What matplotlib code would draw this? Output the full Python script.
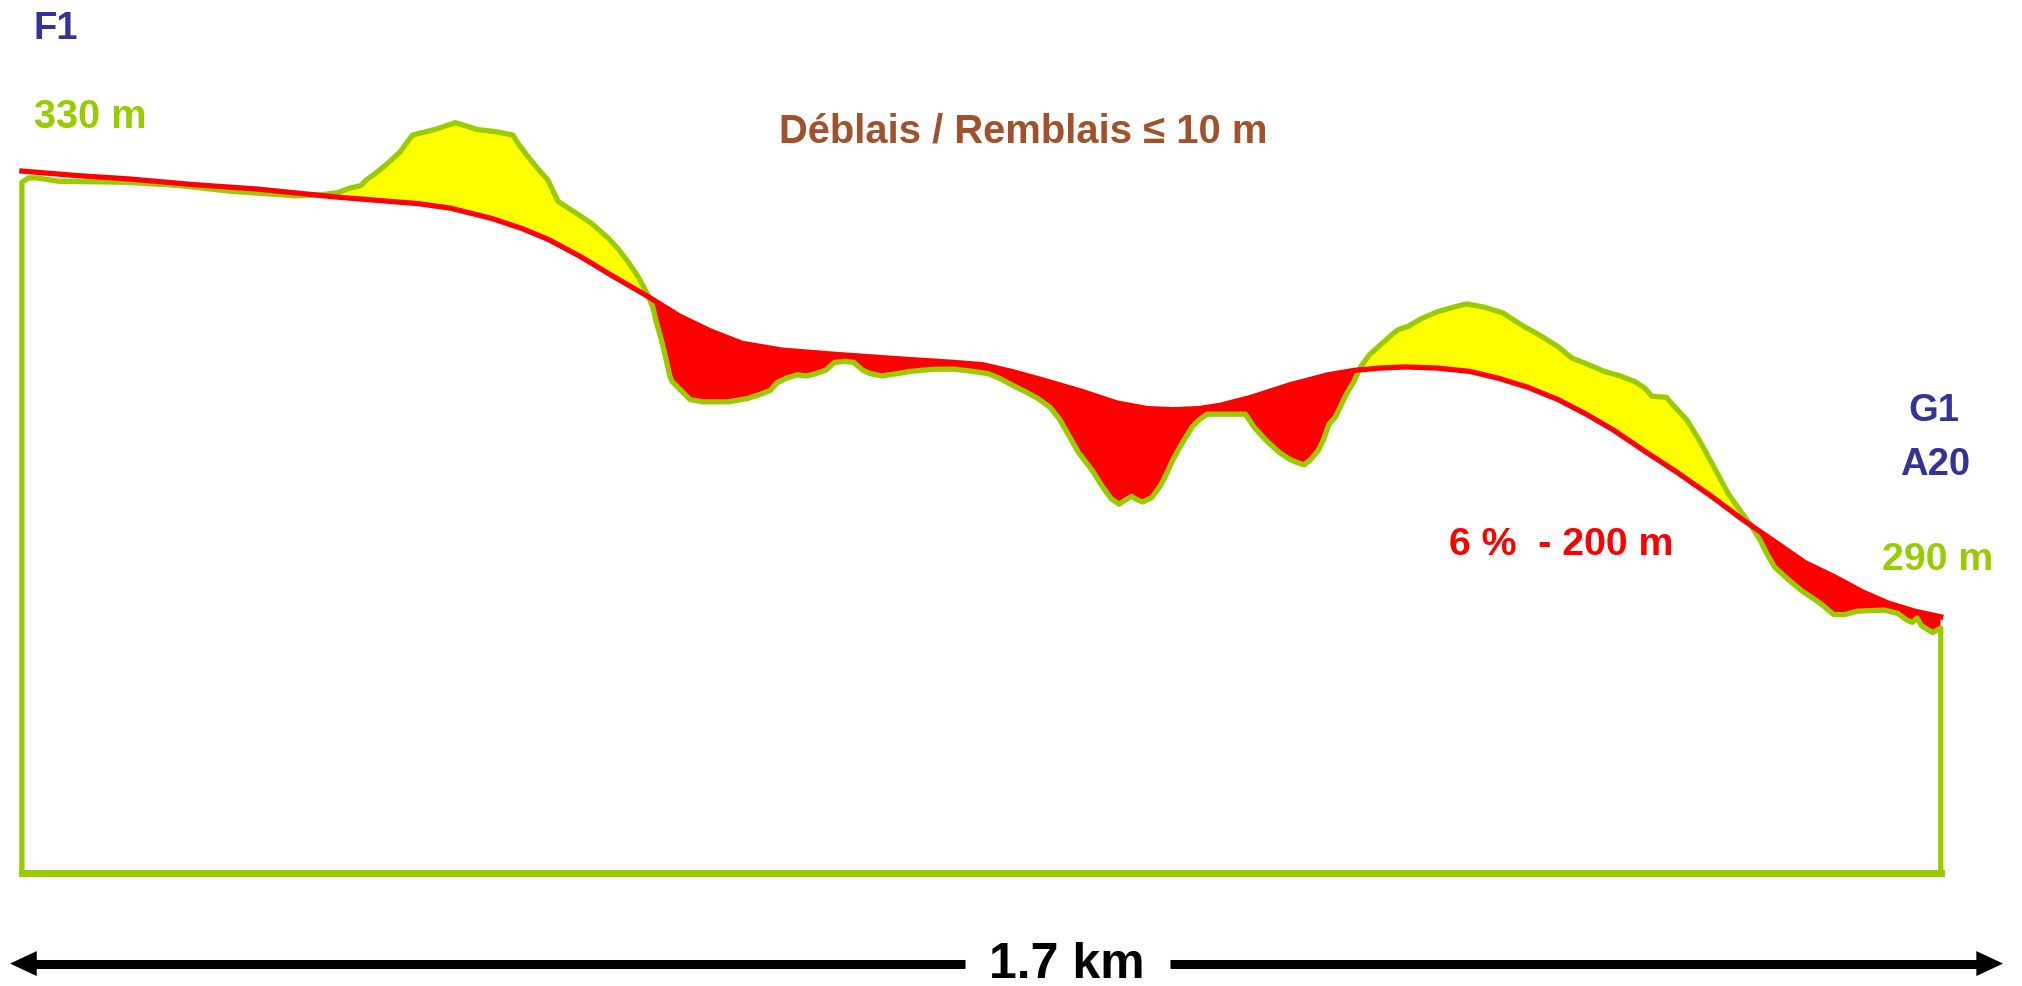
import matplotlib
matplotlib.use("Agg")
import matplotlib.pyplot as plt
from matplotlib.patches import Polygon

# ground profile: distance (m) / elevation (m)
terrain_dist = [0, 6, 13, 32, 95, 141, 186, 243, 266, 280, 291, 300, 305, 312, 323, 335,
                346, 366, 384, 394, 403, 420, 435, 440, 449, 458, 466, 475, 489, 504,
                520, 529, 538, 546, 554, 559, 562, 566, 570, 574, 576, 584, 592, 603,
                626, 643, 655, 663, 669, 677, 687, 695, 703, 712, 720, 729, 737, 745,
                752, 762, 775, 787, 797, 809, 826, 843, 856, 866, 877, 889, 900, 911,
                919, 927, 936, 943, 949, 957, 965, 972, 978, 983, 988, 993, 1001, 1009,
                1015, 1019, 1026, 1032, 1037, 1043, 1050, 1066, 1084, 1092, 1102, 1114,
                1123, 1130, 1136, 1142, 1148, 1153, 1158, 1164, 1173, 1180, 1186, 1194,
                1203, 1213, 1219, 1228, 1240, 1254, 1268, 1280, 1296, 1312, 1329, 1345,
                1361, 1373, 1388, 1402, 1416, 1429, 1438, 1444, 1457, 1462, 1475, 1486,
                1498, 1512, 1524, 1532, 1540, 1546, 1553, 1565, 1577, 1589, 1597, 1605,
                1615, 1626, 1650, 1662, 1670, 1675, 1679, 1683, 1693, 1700]
terrain_elev = [329.8, 330.2, 330.2, 329.9, 329.8, 329.5, 329.0, 328.6, 328.7, 328.9, 329.3,
                329.5, 330.0, 330.5, 331.4, 332.5, 334.0, 334.5, 335.1, 334.8, 334.5,
                334.3, 334.0, 333.2, 332.0, 330.9, 330.0, 328.1, 327.2, 326.2, 324.8,
                323.8, 322.6, 321.4, 319.9, 318.7, 317.4, 316.0, 314.4, 312.6, 312.1,
                311.3, 310.5, 310.3, 310.3, 310.6, 311.0, 311.3, 312.0, 312.4, 312.7,
                312.6, 312.8, 313.1, 313.8, 313.9, 313.8, 313.1, 312.8, 312.6, 312.8,
                313.0, 313.1, 313.2, 313.2, 313.0, 312.8, 312.4, 311.8, 311.2, 310.6,
                309.8, 308.8, 307.4, 305.8, 304.9, 304.1, 302.8, 301.7, 301.2, 301.6,
                301.9, 301.6, 301.4, 301.8, 302.9, 304.1, 305.0, 306.3, 307.3, 308.1,
                308.7, 309.2, 309.2, 309.2, 308.0, 306.9, 305.8, 305.2, 304.9, 304.7,
                305.2, 305.9, 306.9, 308.3, 309.0, 310.9, 312.1, 313.4, 314.5, 315.3,
                316.2, 316.7, 317.0, 317.7, 318.3, 318.7, 319.0, 318.7, 318.2, 317.1,
                316.2, 315.2, 314.2, 313.6, 313.0, 312.6, 312.1, 311.5, 310.8, 310.7,
                310.1, 308.7, 306.9, 304.7, 302.1, 300.4, 299.3, 298.0, 296.8, 295.6,
                294.5, 293.5, 292.7, 292.1, 291.4, 291.4, 291.7, 291.8, 291.5, 290.9,
                290.7, 291.1, 290.4, 289.8, 290.2]

# design grade line
road_dist = [0, 49, 95, 152, 209, 278, 352, 380, 416, 443, 467, 495, 523, 554, 583, 610,
             638, 673, 723, 780, 826, 851, 877, 906, 940, 970, 997, 1020, 1043, 1062,
             1089, 1123, 1157, 1181, 1203, 1226, 1254, 1283, 1308, 1334, 1361, 1386,
             1410, 1438, 1467, 1497, 1525, 1557, 1580, 1605, 1631, 1654, 1677, 1700]
road_elev = [330.8, 330.4, 330.1, 329.6, 329.2, 328.5, 327.9, 327.5, 326.6, 325.7, 324.7,
             323.2, 321.5, 319.7, 317.9, 316.6, 315.5, 314.9, 314.5, 314.1, 313.8, 313.6,
             313.0, 312.2, 311.2, 310.2, 309.7, 309.6, 309.7, 310.0, 310.7, 311.8, 312.7,
             313.1, 313.3, 313.4, 313.3, 313.0, 312.4, 311.6, 310.5, 309.2, 307.8, 305.9,
             304.0, 301.9, 299.8, 297.6, 296.0, 294.8, 293.4, 292.4, 291.7, 291.2]

base_elev = 268.4      # bottom of the profile box
cut_start = 554        # deblais shading starts at first crossing
top_elev = 350.0

GREEN = "#99CC00"
RED = "#FF0000"
YELLOW = "#FFFF00"
NAVY = "#333399"
BROWN = "#A0522D"
FONT = ["Liberation Sans", "DejaVu Sans"]

fig = plt.figure(figsize=(20.22, 9.86), dpi=100)
ax = fig.add_axes([0, 0, 1, 1])
ax.set_xlim(-19.4, 1772.0)
ax.set_ylim(258.4, 346.0)
ax.axis("off")

x0, x1 = terrain_dist[0], terrain_dist[-1]
terrain_pts = list(zip(terrain_dist, terrain_elev))
road_pts = list(zip(road_dist, road_elev))

# remblais (ground above grade) -> yellow
below_ground = Polygon(terrain_pts + [(x1, base_elev), (x0, base_elev)],
                       closed=True, facecolor=YELLOW, edgecolor="none", zorder=1)
above_road = Polygon(road_pts + [(x1, top_elev), (x0, top_elev)],
                     closed=True, transform=ax.transData)
ax.add_patch(below_ground)
below_ground.set_clip_path(above_road)

# deblais (grade above ground) -> red
cut_pts = [(d, e) for d, e in road_pts if d >= cut_start]
below_road = Polygon(cut_pts + [(x1, base_elev), (cut_start, base_elev)],
                     closed=True, facecolor=RED, edgecolor="none", zorder=1)
above_ground = Polygon(terrain_pts + [(x1, top_elev), (x0, top_elev)],
                       closed=True, transform=ax.transData)
ax.add_patch(below_road)
below_road.set_clip_path(above_ground)

# ground line + box
outline_x = [x0] + terrain_dist + [x1, x0]
outline_y = [base_elev] + terrain_elev + [base_elev, base_elev]
ax.plot(outline_x, outline_y, color=GREEN, lw=3.8, solid_joinstyle="round", zorder=2)
ax.plot([x0, x1], [base_elev, base_elev], color=GREEN, lw=5.0, zorder=2)

ax.plot(road_dist, road_elev, color=RED, lw=3.8, zorder=3)

# labels, placed in reference pixel positions
W, H = 1568, 765


def put(txt, xd, yd, size, color, ha="left"):
    ax.text(xd / W, 1 - yd / H, txt, transform=ax.transAxes, ha=ha, va="baseline",
            fontsize=size, fontweight="bold", color=color, family=FONT)


put("F1", 26, 30.5, 27.5, NAVY)
put("330 m", 26, 99.5, 28.5, GREEN)
put("Déblais / Remblais ≤ 10 m", 793.5, 110.6, 28.8, BROWN, ha="center")
put("G1", 1500, 327, 27.5, NAVY, ha="center")
put("A20", 1501, 368.4, 27.5, NAVY, ha="center")
put("290 m", 1502.6, 442, 28.3, GREEN, ha="center")
put("6 %  - 200 m", 1210.7, 430.4, 28.3, RED, ha="center")
put("1.7 km", 827.5, 758.7, 36, "black", ha="center")

# distance arrow
ya = 747.6
for xs, xe in [(20, 748.3), (907.3, 1541)]:
    ax.plot([xs / W, xe / W], [1 - ya / H] * 2, transform=ax.transAxes,
            color="black", lw=6.5, solid_capstyle="butt")
for tip, back in [(7.8, 28.5), (1553.3, 1532.6)]:
    head = Polygon([(tip / W, 1 - ya / H),
                    (back / W, 1 - (ya - 9.7) / H),
                    (back / W, 1 - (ya + 9.7) / H)],
                   closed=True, transform=ax.transAxes, facecolor="black",
                   edgecolor="none")
    ax.add_patch(head)

fig.savefig("out.png", dpi=100)
